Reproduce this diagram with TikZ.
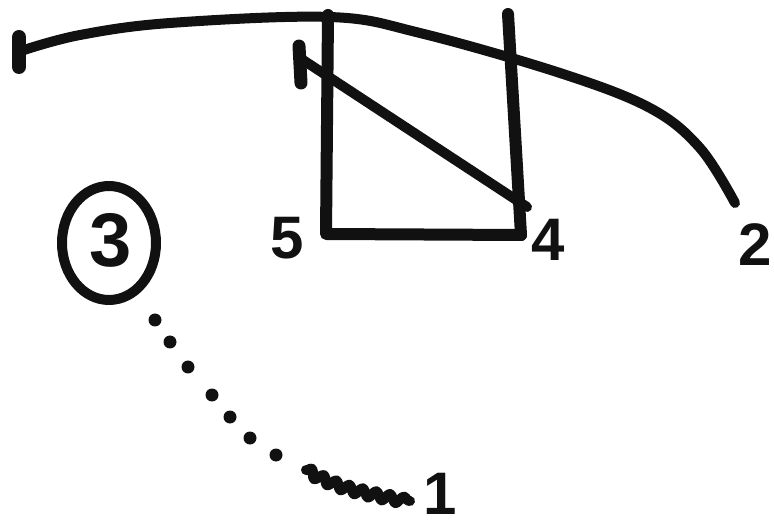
\documentclass[tikz,border=0pt]{standalone}
\usepackage{fontspec}
\setmainfont{Liberation Sans}
\usetikzlibrary{decorations.pathmorphing}
\definecolor{ink}{HTML}{111111}
\tikzset{
  ink stroke/.style={draw=ink, line width=12pt, line cap=round, line join=round},
  curve stroke/.style={draw=ink, line width=10pt, line cap=round, line join=round},
  thin stroke/.style={draw=ink, line width=10pt, line cap=round, line join=round},
  digit/.style={text=ink, font=\bfseries\fontsize{60}{60}\selectfont, inner sep=0pt},
  dotmark/.style={fill=ink, circle, inner sep=0pt, minimum size=13pt}
}
\begin{document}
\begin{tikzpicture}[x=1pt,y=-1pt]
\useasboundingbox (0,0) rectangle (774,529);
% named points
\coordinate (curveL) at (24,50);
\coordinate (curveR) at (735,203);
\coordinate (tickLa) at (19,37);
\coordinate (tickLb) at (19,67);
\coordinate (rTL) at (328,15);
\coordinate (rBL) at (326,234);
\coordinate (rBR) at (521,235);
\coordinate (rTR) at (508,14);
\coordinate (diagA) at (303,60);
\coordinate (diagB) at (527,207);
\coordinate (tickDa) at (299,46);
\coordinate (tickDb) at (301,83);
\coordinate (dotStart) at (155,320);
\coordinate (sqA) at (306,470);
\coordinate (sqB) at (410,501);
% long curve
\draw[curve stroke] plot[smooth, tension=0.6] coordinates {(curveL) (80,35) (170,23) (330,17) (420,33) (560,73) (650,108) (700,148) (curveR)};
\draw[ink stroke, line width=14pt] (tickLa) -- (tickLb);
% rectangle
\draw[ink stroke] (rTL) -- (rBL) -- (rBR);
\draw[ink stroke] (rTR) -- (rBR);
% diagonal
\draw[curve stroke] (diagA) -- (diagB);
\draw[ink stroke, line width=13pt] (tickDa) -- (tickDb);
% labels
\node[digit] (n5) at (287,238) {5};
\node[digit] (n4) at (548,240) {4};
\node[digit] (n2) at (755,245) {2};
\node[digit, font=\bfseries\fontsize{76}{76}\selectfont] (n3) at (111,240) {3};
\draw[ink stroke, line width=10pt] (109,243) ellipse[x radius=47, y radius=57];
\node[digit] (n1) at (440,494) {1};
% dotted trail
\node[dotmark] (d1) at (dotStart) {};
\node[dotmark] (d2) at (170,342) {};
\node[dotmark] (d3) at (188,367) {};
\node[dotmark] (d4) at (212,395) {};
\node[dotmark] (d5) at (230,417) {};
\node[dotmark] (d6) at (250,438) {};
\node[dotmark] (d7) at (276,455) {};
% squiggle
\draw[thin stroke, decorate, decoration={snake, amplitude=4pt, segment length=14pt}] (sqA) .. controls (340,490) and (370,492) .. (sqB);
\end{tikzpicture}
\end{document}
